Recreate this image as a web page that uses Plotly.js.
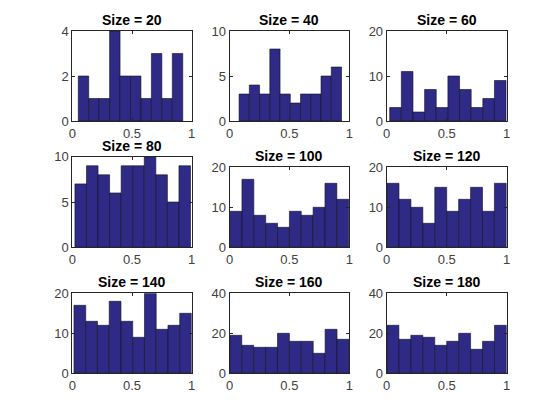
<!DOCTYPE html>
<html>
<head>
<meta charset="utf-8">
<script src="https://cdn.plot.ly/plotly-3.0.1.min.js"></script>
<style>html,body{margin:0;padding:0;background:#fff;}#chart{width:560px;height:420px;}</style>
</head>
<body>
<div id="chart"></div>
<script>
// Sample sizes (panel titles)
const sizes = [20, 40, 60, 80, 100, 120, 140, 160, 180];
// Bin counts (10 bins each)
const counts20  = [2, 1, 1, 4, 2, 2, 1, 3, 1, 3];
const counts40  = [3, 4, 3, 8, 3, 2, 3, 3, 5, 6];
const counts60  = [3, 11, 2, 7, 3, 10, 7, 3, 5, 9];
const counts80  = [7, 9, 8, 6, 9, 9, 10, 8, 5, 9];
const counts100 = [9, 17, 8, 6, 5, 9, 8, 10, 16, 12];
const counts120 = [16, 12, 10, 6, 15, 9, 12, 15, 9, 16];
const counts140 = [17, 13, 12, 18, 13, 9, 20, 11, 12, 15];
const counts160 = [19, 14, 13, 13, 20, 16, 16, 10, 22, 17];
const counts180 = [24, 17, 19, 18, 14, 16, 20, 12, 16, 24];
// Sample minimum and maximum (histogram range) per panel
const sampleMin = [0.05, 0.08, 0.025, 0.022, 0.005, 0.003, 0.014, 0.003, 0.002];
const sampleMax = [0.925, 0.935, 0.995, 0.99, 0.995, 0.997, 0.998, 0.997, 0.998];
// Y-axis limits and tick labels
const yMax = [4, 10, 20, 10, 20, 20, 20, 40, 40];
const xTicks = [0, 0.5, 1];
const xTickText = ['0', '0.5', '1'];

const allCounts = [counts20, counts40, counts60, counts80, counts100, counts120, counts140, counts160, counts180];

// layout geometry (pixels in a 560x420 figure)
const W = 560, H = 420;
const colPx = [[72.3, 191.7], [229.5, 349.3], [386.7, 506.7]];
// [top, bottom] per panel
const panelY = [
  [31, 121], [31, 121], [31, 121],
  [156.7, 247.3], [167.3, 247.3], [167.3, 247.3],
  [293.3, 373.3], [293.3, 373.3], [293.3, 373.3]
];

const traces = [];
const layout = {
  width: W, height: H,
  margin: {l: 0, r: 0, t: 0, b: 0},
  paper_bgcolor: '#ffffff',
  plot_bgcolor: '#ffffff',
  showlegend: false,
  bargap: 0,
  annotations: [],
  font: {family: 'Liberation Sans, Arial, sans-serif', color: '#262626'}
};

for (let i = 0; i < 9; i++) {
  const c = i % 3;
  const n = i + 1;
  const xa = n === 1 ? 'x' : 'x' + n;
  const ya = n === 1 ? 'y' : 'y' + n;
  const counts = allCounts[i];
  const nb = counts.length;
  const bw = (sampleMax[i] - sampleMin[i]) / nb;
  const centers = counts.map((_, k) => sampleMin[i] + bw * (k + 0.5));
  traces.push({
    type: 'bar', x: centers, y: counts, width: bw,
    xaxis: xa, yaxis: ya,
    marker: {color: '#2E2A86', line: {color: '#111122', width: 0.6}},
    hoverinfo: 'x+y'
  });
  const axCommon = {
    showgrid: false, zeroline: false, showline: true, mirror: 'ticks',
    linecolor: '#262626', linewidth: 1,
    ticks: 'inside', ticklen: 3, tickcolor: '#262626', tickwidth: 1,
    tickfont: {size: 13, color: '#404040', family: 'Liberation Sans, Arial, sans-serif'},
    fixedrange: true
  };
  layout[xa === 'x' ? 'xaxis' : 'xaxis' + n] = Object.assign({}, axCommon, {
    domain: [colPx[c][0] / W, colPx[c][1] / W],
    range: [0, 1], anchor: ya,
    tickvals: xTicks, ticktext: xTickText
  });
  layout[ya === 'y' ? 'yaxis' : 'yaxis' + n] = Object.assign({}, axCommon, {
    domain: [1 - panelY[i][1] / H, 1 - panelY[i][0] / H],
    range: [0, yMax[i]], anchor: xa,
    tickvals: [0, yMax[i] / 2, yMax[i]],
    ticktext: [0, yMax[i] / 2, yMax[i]].map(String)
  });
  layout.annotations.push({
    xref: xa + ' domain', yref: ya + ' domain',
    x: 0.5, y: 1, xanchor: 'center', yanchor: 'bottom', yshift: 1,
    showarrow: false,
    text: '<b>Size = ' + sizes[i] + '</b>',
    font: {size: 14, color: '#000000', family: 'Liberation Sans, Arial, sans-serif'}
  });
}

Plotly.newPlot('chart', traces, layout, {displayModeBar: false, staticPlot: true});
</script>
</body>
</html>
